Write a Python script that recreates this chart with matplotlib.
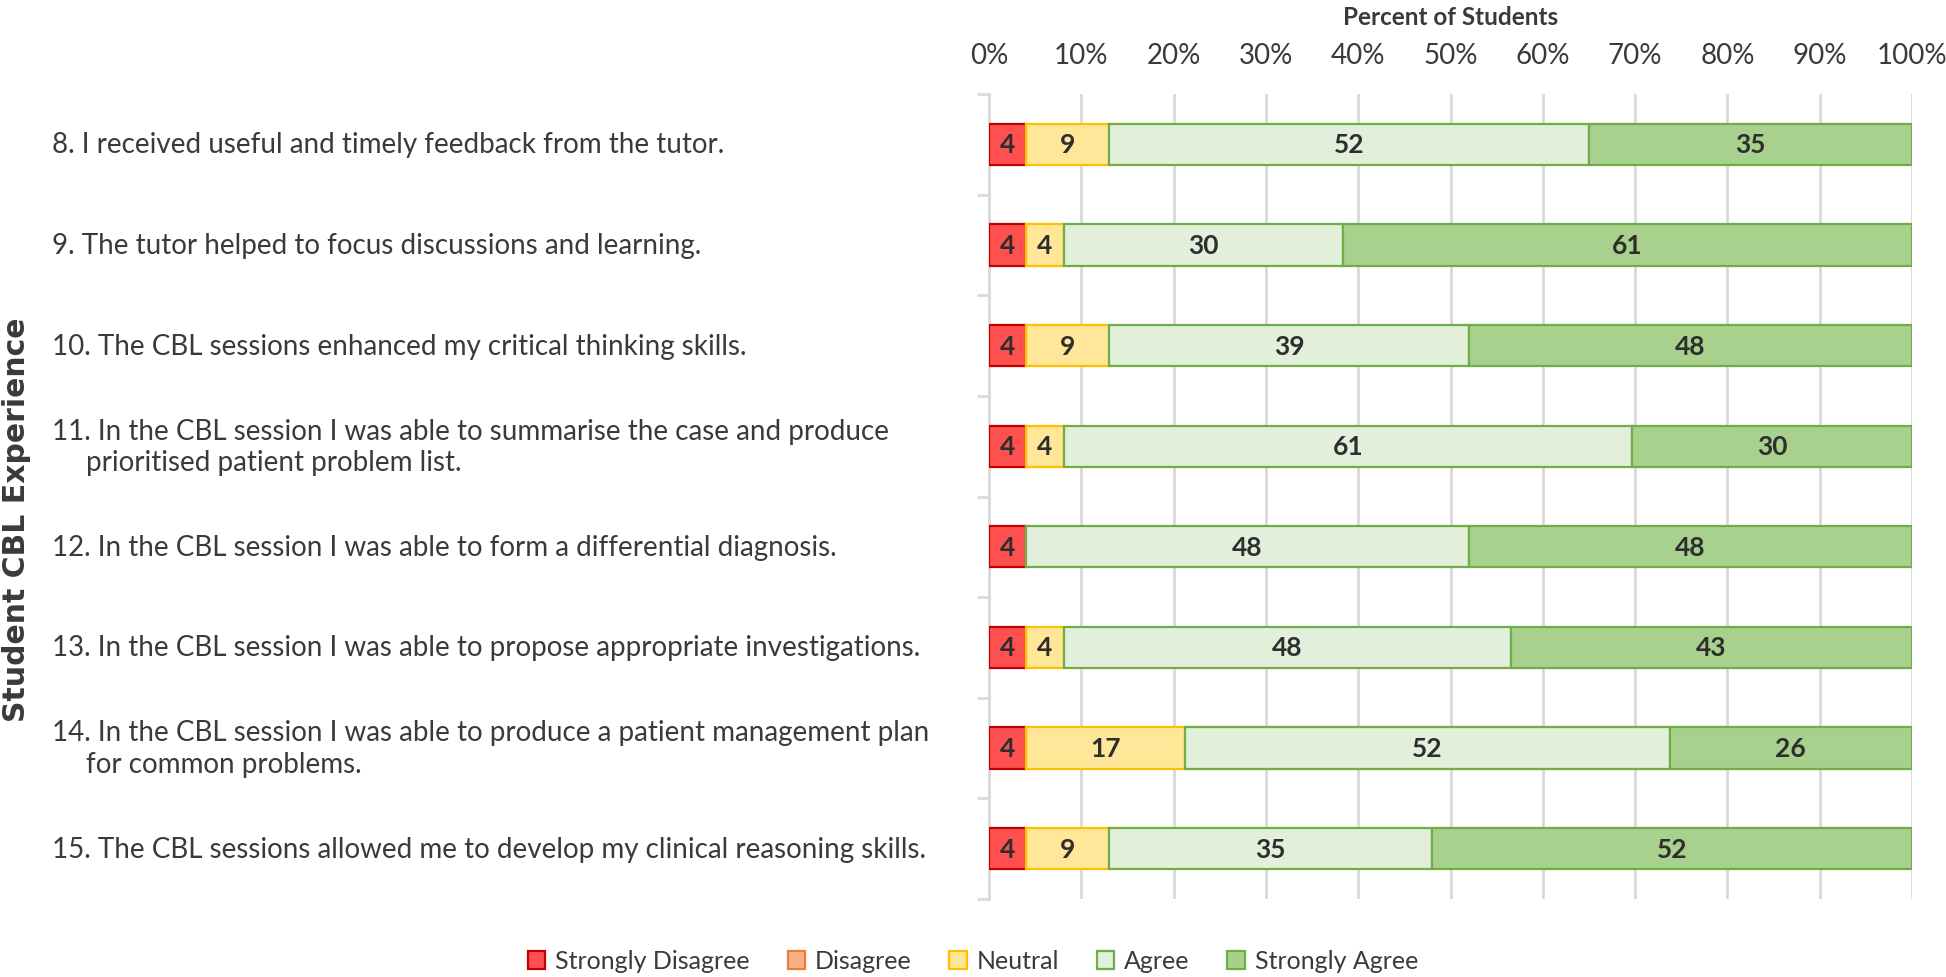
import matplotlib
matplotlib.use("Agg")
import matplotlib.pyplot as plt
import matplotlib.transforms as mtransforms
from matplotlib.patches import Patch
import numpy as np

# ---------------- data ----------------
questions = [
    "8. I received useful and timely feedback from the tutor.",
    "9. The tutor helped to focus discussions and learning.",
    "10. The CBL sessions enhanced my critical thinking skills.",
    "11. In the CBL session I was able to summarise the case and produce\nprioritised patient problem list.",
    "12. In the CBL session I was able to form a differential diagnosis.",
    "13. In the CBL session I was able to propose appropriate investigations.",
    "14. In the CBL session I was able to produce a patient management plan\nfor common problems.",
    "15. The CBL sessions allowed me to develop my clinical reasoning skills.",
]
categories = ["Strongly Disagree", "Disagree", "Neutral", "Agree", "Strongly Agree"]
strongly_disagree = [4, 4, 4, 4, 4, 4, 4, 4]
disagree = [0, 0, 0, 0, 0, 0, 0, 0]
neutral = [9, 4, 9, 4, 0, 4, 17, 9]
agree = [52, 30, 39, 61, 48, 48, 52, 35]
strongly_agree = [35, 61, 48, 30, 48, 43, 26, 52]
xticks = [0, 10, 20, 30, 40, 50, 60, 70, 80, 90, 100]
xtick_labels = ["0%", "10%", "20%", "30%", "40%", "50%", "60%", "70%", "80%", "90%", "100%"]

face_colors = ["#FF5050", "#F4B183", "#FFE699", "#E2EFDA", "#A9D18E"]
edge_colors = ["#C00000", "#ED7D31", "#FFC000", "#70AD47", "#70AD47"]

# ---------------- figure ----------------
W, H = 1946, 978
fig = plt.figure(figsize=(W / 100, H / 100), dpi=100)
plt.rcParams["font.family"] = ["Lato", "DejaVu Sans"]
ax = fig.add_axes([989 / W, 1 - 900 / H, (1912 - 989) / W, (900 - 95) / H])

series = np.array([strongly_disagree, disagree, neutral, agree, strongly_agree], dtype=float)
totals = series.sum(axis=0)
shares = series / totals * 100
y = np.arange(len(questions))
left = np.zeros(len(questions))
text_color = "#3A3A3A"
for i, cat in enumerate(categories):
    ax.barh(y, shares[i], left=left, height=0.41, color=face_colors[i],
            edgecolor=edge_colors[i], linewidth=1.6, zorder=3)
    for j in range(len(questions)):
        if series[i, j] > 0:
            ax.text(left[j] + shares[i, j] / 2, y[j], f"{int(series[i, j])}",
                    ha="center", va="center", fontsize=19, fontweight="bold",
                    color="#2E2E2E", zorder=4)
    left += shares[i]

ax.set_xlim(0, 100)
ax.set_ylim(len(questions) - 0.5, -0.5)
ax.xaxis.tick_top()
ax.xaxis.set_label_position("top")
ax.set_xticks(xticks)
ax.set_xticklabels(xtick_labels, fontsize=20, color=text_color)
ax.tick_params(axis="x", length=0, pad=19)
ax.set_xlabel("Percent of Students", fontsize=17.5, fontweight="bold",
              color=text_color, labelpad=13)
ax.grid(axis="x", color="#D9D9D9", linewidth=2, zorder=0)
for s in ["top", "right", "bottom"]:
    ax.spines[s].set_visible(False)
ax.spines["left"].set_color("#D9D9D9")
ax.spines["left"].set_linewidth(2)
ax.set_yticks(np.arange(len(questions) + 1) - 0.5)
ax.set_yticklabels([])
ax.tick_params(axis="y", length=9, width=2, color="#D9D9D9")

# category labels (left aligned, hanging indent)
trans = mtransforms.blended_transform_factory(fig.transFigure, ax.transData)
line_h = 0.31
for j, q in enumerate(questions):
    lines = q.split("\n")
    n = len(lines)
    for k, ln in enumerate(lines):
        yy = y[j] + (k - (n - 1) / 2) * line_h
        xx = 52 / W if k == 0 else 86 / W
        ax.text(xx, yy, ln, transform=trans, ha="left", va="center",
                fontsize=20, color=text_color)

fig.text(17 / W, 1 - 520 / H, "Student CBL Experience", rotation=90,
         ha="center", va="center", fontsize=21.5, fontweight="bold",
         color=text_color, family="DejaVu Sans")

handles = [Patch(facecolor=face_colors[i], edgecolor=edge_colors[i], linewidth=1.6)
           for i in range(len(categories))]
leg = fig.legend(handles, categories, loc="center", bbox_to_anchor=(0.5, 1 - 962 / H),
                 ncol=5, frameon=False, fontsize=18, handlelength=0.7,
                 handleheight=0.7, handletextpad=0.4, columnspacing=1.5)
for t in leg.get_texts():
    t.set_color(text_color)

fig.savefig("out.png", dpi=100)
